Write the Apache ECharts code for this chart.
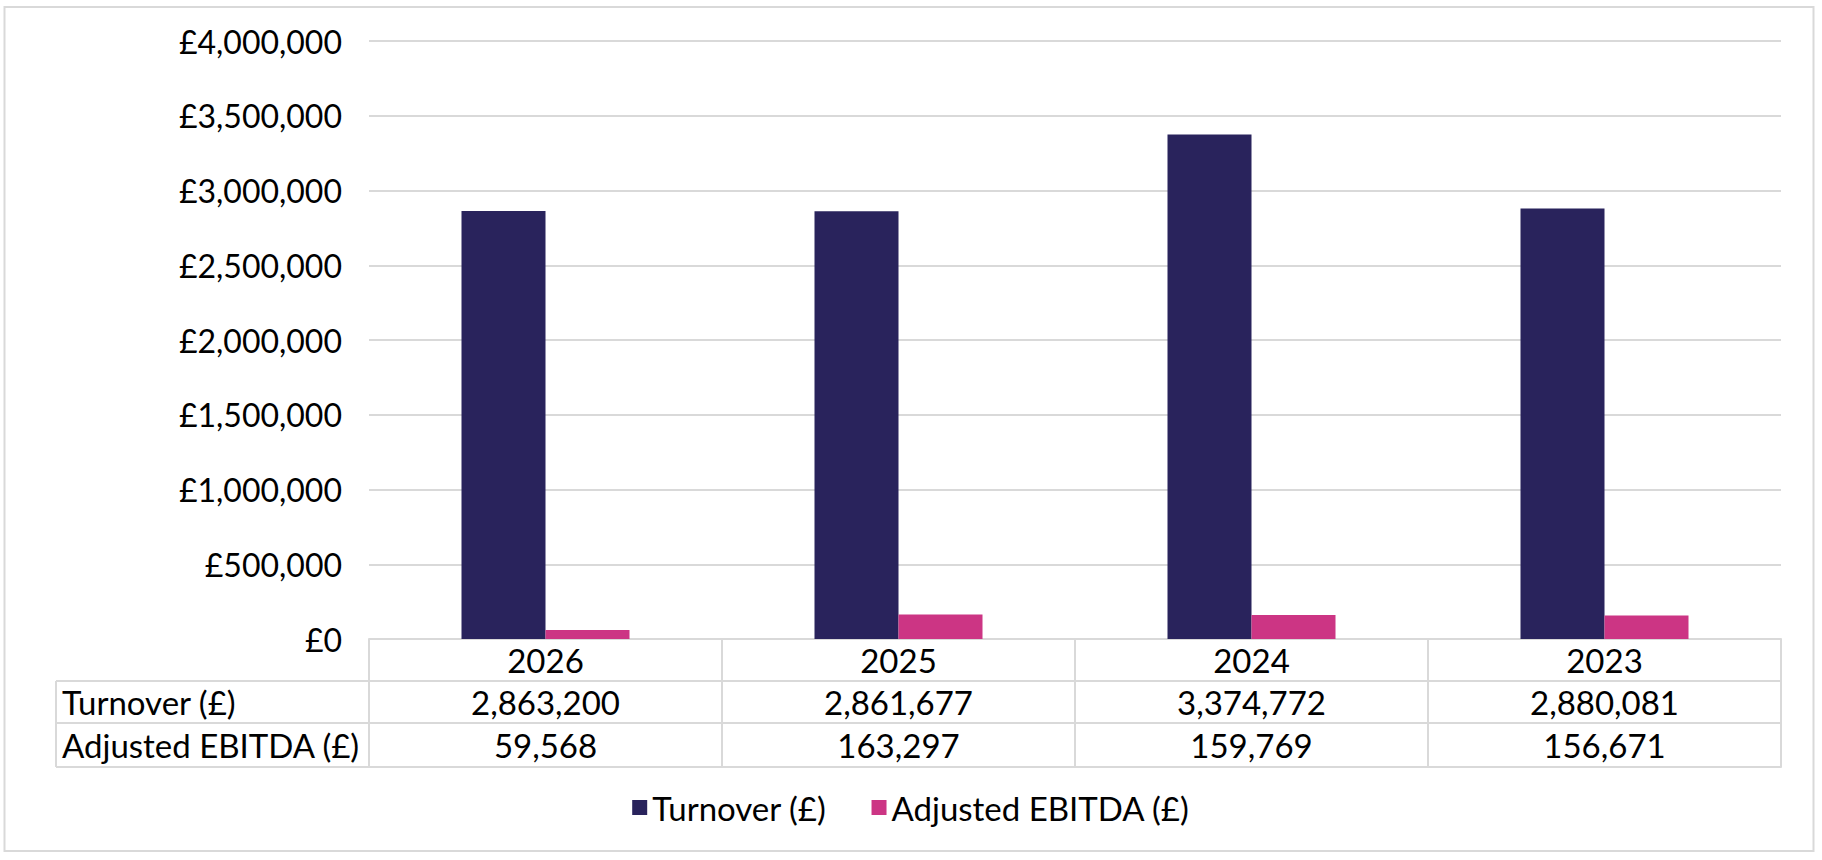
<!DOCTYPE html>
<html>
<head>
<meta charset="utf-8">
<script src="https://cdn.jsdelivr.net/npm/echarts@6/dist/echarts.min.js"></script>
<style>
html,body{margin:0;padding:0;background:#fff;}
#chart{width:1822px;height:860px;}
</style>
</head>
<body>
<div id="chart"></div>
<script>
// ---- data ----
const categories = ['2026', '2025', '2024', '2023'];
const turnover = [2863200, 2861677, 3374772, 2880081];
const adjustedEbitda = [59568, 163297, 159769, 156671];
const seriesNames = ['Turnover (£)', 'Adjusted EBITDA (£)'];
const rowLabels = ['Turnover (£)', 'Adjusted EBITDA (£)'];
const yTicks = { min: 0, max: 4000000, interval: 500000 };

// ---- styling ----
const FONT = 'Lato';
const FS_Y = 32;
const FS = 33;
const LINE = '#D9D9D9';
const TXT = '#000000';
const colors = ['#29235C', '#CC3584'];

const fmt = v => v.toLocaleString('en-GB');

const chart = echarts.init(document.getElementById('chart'), null, { renderer: 'svg' });

const gridLeft = 369, gridRight = 41, gridTop = 41, gridBottom = 221;
const axisY = 860 - gridBottom; // y of zero line
const rowH = [42, 42, 44];

function tableAxis(offset, labels, margin) {
  return {
    type: 'category', gridIndex: 0, position: 'bottom', offset: offset,
    data: categories,
    axisLine: { show: true, lineStyle: { color: LINE, width: 2 } },
    axisTick: { show: false },
    splitLine: { show: false },
    axisLabel: labels ? {
      show: true, interval: 0, margin: margin, verticalAlign: 'middle',
      fontFamily: FONT, fontSize: FS, color: TXT,
      formatter: (v, i) => labels[i]
    } : { show: false }
  };
}

const option = {
  backgroundColor: '#ffffff',
  animation: false,
  textStyle: { fontFamily: FONT },
  grid: { left: gridLeft, right: gridRight, top: gridTop, bottom: gridBottom, containLabel: false },
  legend: {
    data: seriesNames,
    left: 'center', top: 786,
    icon: 'rect', itemWidth: 15, itemHeight: 15, itemGap: 45, itemTextGap: 6,
    textStyle: { fontFamily: FONT, fontSize: FS, color: TXT }
  },
  xAxis: [
    {
      type: 'category', gridIndex: 0, position: 'bottom', offset: 0,
      data: categories,
      axisLine: { show: true, lineStyle: { color: LINE, width: 2 } },
      axisTick: { show: true, length: rowH[0] + rowH[1] + rowH[2], lineStyle: { color: LINE, width: 2 } },
      splitLine: { show: false },
      axisLabel: { show: true, interval: 0, margin: 21, verticalAlign: 'middle',
        fontFamily: FONT, fontSize: FS, color: TXT }
    },
    tableAxis(rowH[0], turnover.map(fmt), 21),
    tableAxis(rowH[0] + rowH[1], adjustedEbitda.map(fmt), 22),
    tableAxis(rowH[0] + rowH[1] + rowH[2], null, 0)
  ],
  yAxis: {
    type: 'value', min: yTicks.min, max: yTicks.max, interval: yTicks.interval,
    axisLine: { show: false }, axisTick: { show: false },
    splitLine: { show: true, lineStyle: { color: LINE, width: 2 } },
    axisLabel: { margin: 27, fontFamily: FONT, fontSize: FS_Y, color: TXT,
      formatter: v => '£' + fmt(v) }
  },
  series: [
    { name: seriesNames[0], type: 'bar', xAxisIndex: 0, data: turnover,
      barWidth: 84, barGap: '0%', itemStyle: { color: colors[0] } },
    { name: seriesNames[1], type: 'bar', xAxisIndex: 0, data: adjustedEbitda,
      barWidth: 84, barGap: '0%', itemStyle: { color: colors[1] } }
  ],
  graphic: [
    // outer chart border
    { type: 'rect', silent: true, shape: { x: 4.5, y: 7, width: 1809, height: 844 },
      style: { fill: null, stroke: LINE, lineWidth: 2 } },
    // row-label part of the data table
    { type: 'line', silent: true, shape: { x1: 56, y1: axisY + rowH[0], x2: gridLeft, y2: axisY + rowH[0] },
      style: { stroke: LINE, lineWidth: 2 } },
    { type: 'line', silent: true, shape: { x1: 56, y1: axisY + rowH[0] + rowH[1], x2: gridLeft, y2: axisY + rowH[0] + rowH[1] },
      style: { stroke: LINE, lineWidth: 2 } },
    { type: 'line', silent: true, shape: { x1: 56, y1: axisY + rowH[0] + rowH[1] + rowH[2], x2: gridLeft, y2: axisY + rowH[0] + rowH[1] + rowH[2] },
      style: { stroke: LINE, lineWidth: 2 } },
    { type: 'line', silent: true, shape: { x1: 56, y1: axisY + rowH[0], x2: 56, y2: axisY + rowH[0] + rowH[1] + rowH[2] },
      style: { stroke: LINE, lineWidth: 2 } },
    { type: 'text', silent: true, x: 62, y: axisY + rowH[0] + rowH[1] / 2,
      style: { text: rowLabels[0], fontFamily: FONT, fontSize: FS, fill: TXT, verticalAlign: 'middle', align: 'left' } },
    { type: 'text', silent: true, x: 62, y: axisY + rowH[0] + rowH[1] + rowH[2] / 2,
      style: { text: rowLabels[1], fontFamily: FONT, fontSize: FS, fill: TXT, verticalAlign: 'middle', align: 'left' } }
  ]
};

chart.setOption(option);
</script>
</body>
</html>
